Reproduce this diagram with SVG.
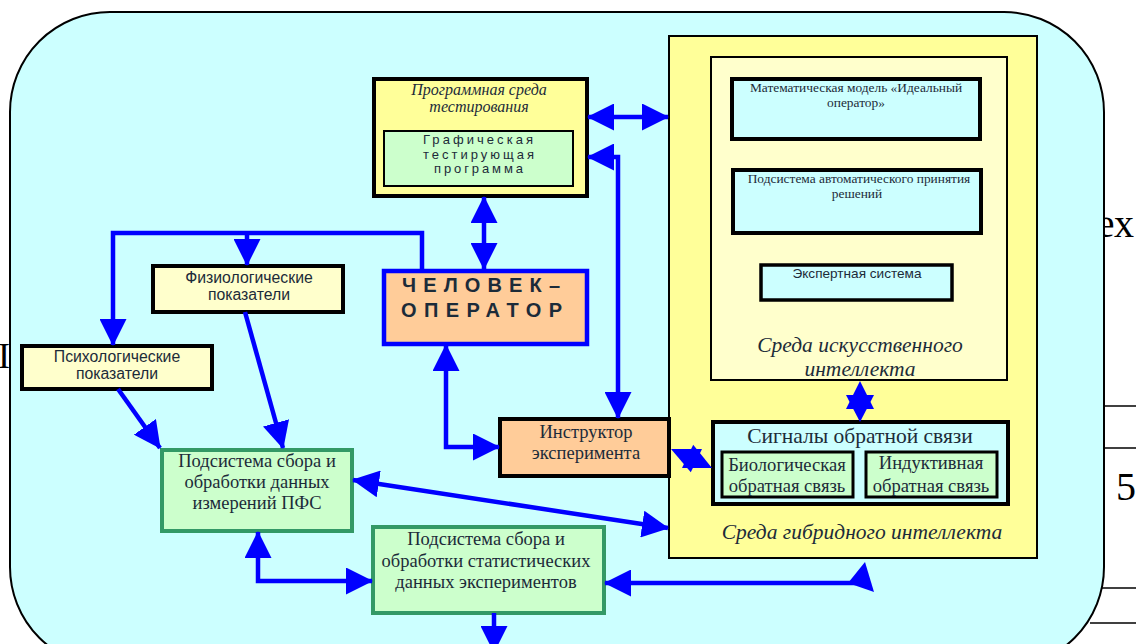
<svg xmlns="http://www.w3.org/2000/svg" width="1136" height="644" viewBox="0 0 1136 644">
<style>
.bg{font-family:"Liberation Serif","Times New Roman",serif;fill:#000}
.sr{font-family:"Liberation Serif","Times New Roman",serif;fill:#1c2b39;text-anchor:middle}
.it{font-family:"Liberation Serif","Times New Roman",serif;font-style:italic;fill:#1c2b39;text-anchor:middle}
.ss{font-family:"Liberation Sans",Arial,sans-serif;fill:#1c2b39;text-anchor:middle}
.sp{font-family:"Liberation Sans",Arial,sans-serif;fill:#1c2b39;text-anchor:start;font-size:13px}
.bd{font-family:"Liberation Sans",Arial,sans-serif;font-weight:bold;fill:#1c2b39}
.con{fill:none;stroke:#0000FF;stroke-width:4.5}
.head{fill:#0000FF}
</style>
<defs>
<marker id="ah" viewBox="0 0 27 27" refX="26" refY="13.5" markerWidth="27" markerHeight="27" markerUnits="userSpaceOnUse" orient="auto-start-reverse">
<path d="M0,0 L27,13.5 L0,27 z" fill="#0000FF"/>
</marker>
</defs>

<!-- background page fragments -->
<g id="page">
<text class="bg" x="1134" y="237" font-size="40" text-anchor="end">ех</text>
<text class="bg" x="1116" y="500" font-size="40">5</text>
<text class="bg" x="-2" y="368" font-size="36">I</text>
<g stroke="#000" stroke-width="1.5">
<line x1="1100" y1="406" x2="1136" y2="406"/>
<line x1="1100" y1="448" x2="1136" y2="448"/>
<line x1="1096" y1="588" x2="1136" y2="588"/>
<line x1="1090" y1="623" x2="1136" y2="623"/>
</g>
</g>

<g id="outer">
<rect x="10" y="12" width="1094" height="655" rx="100" ry="100" fill="#CCFFFF" stroke="#000" stroke-width="2"/>
</g>

<g id="hybrid">
<rect x="669" y="36" width="368" height="522" fill="#FFFF99" stroke="#000" stroke-width="2"/>
<text class="it" x="862" y="539" font-size="21.5">Среда гибридного интеллекта</text>
</g>

<g id="ai">
<rect x="711" y="57" width="296" height="323" fill="#FFFFCC" stroke="#000" stroke-width="2"/>
<text class="it" x="860" y="352" font-size="21.5">Среда искусственного</text>
<text class="it" x="860" y="376" font-size="21.5">интеллекта</text>
</g>

<g id="mathmodel">
<rect x="732" y="79" width="248" height="60" fill="#CCFFFF" stroke="#000" stroke-width="4"/>
<text class="sr" x="856" y="92" font-size="13.4">Математическая модель «Идеальный</text>
<text class="sr" x="856" y="107" font-size="13.4">оператор»</text>
</g>

<g id="decision">
<rect x="733" y="170" width="248" height="63" fill="#CCFFFF" stroke="#000" stroke-width="4"/>
<text class="sr" x="859" y="183" font-size="13.4">Подсистема автоматического принятия</text>
<text class="sr" x="857" y="198" font-size="13.4">решений</text>
</g>

<g id="expert">
<rect x="761" y="265" width="191" height="35" fill="#CCFFFF" stroke="#000" stroke-width="3.5"/>
<text class="ss" x="857" y="278" font-size="13.6">Экспертная система</text>
</g>

<g id="signals">
<rect x="713" y="422" width="295" height="82" fill="#CCFFFF" stroke="#000" stroke-width="4"/>
<text class="sr" x="860" y="443" font-size="21.5">Сигналы обратной связи</text>
</g>

<g id="bio">
<rect x="722" y="452" width="131" height="45" fill="#CCFFCC" stroke="#000" stroke-width="3"/>
<text class="sr" x="787" y="471" font-size="18.6">Биологическая</text>
<text class="sr" x="787" y="492" font-size="18.6">обратная связь</text>
</g>

<g id="inductive">
<rect x="866" y="452" width="131" height="45" fill="#CCFFCC" stroke="#000" stroke-width="3"/>
<text class="sr" x="931" y="469" font-size="18.6">Индуктивная</text>
<text class="sr" x="931" y="492" font-size="18.6">обратная связь</text>
</g>

<g id="progenv">
<rect x="374" y="79" width="213" height="117" fill="#FFFF99" stroke="#000" stroke-width="4"/>
<text class="it" x="479" y="95" font-size="16">Программная среда</text>
<text class="it" x="479" y="112" font-size="16">тестирования</text>
</g>

<g id="graphprog">
<rect x="384" y="131" width="189" height="55" fill="#CCFFCC" stroke="#000" stroke-width="2"/>
<text class="sp" x="423" y="144" textLength="110" lengthAdjust="spacing">Графическая</text>
<text class="sp" x="423" y="159" textLength="111" lengthAdjust="spacing">тестирующая</text>
<text class="sp" x="434" y="173" textLength="89" lengthAdjust="spacing">программа</text>
</g>

<g id="operator">
<rect x="384" y="271" width="203" height="73" fill="#FFCC99" stroke="#0000FF" stroke-width="4.5"/>
<text class="bd" x="402" y="292" font-size="20" textLength="158" lengthAdjust="spacing">ЧЕЛОВЕК–</text>
<text class="bd" x="401" y="317" font-size="20" textLength="161" lengthAdjust="spacing">ОПЕРАТОР</text>
</g>

<g id="physio">
<rect x="153" y="266" width="190" height="46" fill="#FFFFCC" stroke="#000" stroke-width="4"/>
<text class="ss" x="249" y="283" font-size="15.8">Физиологические</text>
<text class="ss" x="249" y="300" font-size="15.8">показатели</text>
</g>

<g id="psycho">
<rect x="22" y="346" width="190" height="43" fill="#FFFFCC" stroke="#000" stroke-width="4"/>
<text class="ss" x="117" y="362" font-size="15.8">Психологические</text>
<text class="ss" x="117" y="379" font-size="15.8">показатели</text>
</g>

<g id="pfs">
<rect x="162" y="450" width="190" height="81" fill="#CCFFCC" stroke="#339966" stroke-width="4"/>
<text class="sr" x="257" y="467" font-size="18.5">Подсистема сбора и</text>
<text class="sr" x="257" y="488" font-size="18.5">обработки данных</text>
<text class="sr" x="257" y="509" font-size="18.5">измерений ПФС</text>
</g>

<g id="instructor">
<rect x="500" y="419" width="169" height="57" fill="#FFCC99" stroke="#000" stroke-width="4"/>
<text class="sr" x="586" y="438" font-size="18.5">Инструктор</text>
<text class="sr" x="586" y="459" font-size="18.5">эксперимента</text>
</g>

<g id="stats">
<rect x="373" y="527" width="231" height="86" fill="#CCFFCC" stroke="#339966" stroke-width="4"/>
<text class="sr" x="486" y="545" font-size="18.5">Подсистема сбора и</text>
<text class="sr" x="486" y="567" font-size="18.5">обработки статистических</text>
<text class="sr" x="486" y="588" font-size="18.5">данных экспериментов</text>
</g>

<g id="connectors">
<line class="con" x1="588" y1="117" x2="668" y2="117" marker-start="url(#ah)" marker-end="url(#ah)"/>
<polyline class="con" points="618,418 618,157 588,157" marker-start="url(#ah)" marker-end="url(#ah)"/>
<line class="con" x1="484" y1="197" x2="484" y2="269" marker-start="url(#ah)" marker-end="url(#ah)"/>
<polyline class="con" points="422,271 422,233 113,233 113,345" marker-end="url(#ah)"/>
<line class="con" x1="247" y1="233" x2="247" y2="265" marker-end="url(#ah)"/>
<line class="con" x1="118" y1="389" x2="160" y2="448" marker-end="url(#ah)"/>
<line class="con" x1="245" y1="312" x2="283" y2="448" marker-end="url(#ah)"/>
<polyline class="con" points="446,345 446,447 499,447" marker-start="url(#ah)" marker-end="url(#ah)"/>
<line class="con" x1="353" y1="480" x2="668" y2="528" marker-start="url(#ah)" marker-end="url(#ah)"/>
<polyline class="con" points="258,532 258,581 372,581" marker-start="url(#ah)" marker-end="url(#ah)"/>
<line class="con" x1="605" y1="583" x2="856" y2="583" marker-start="url(#ah)"/>
<polygon class="head" points="848,583 865,562 874,592"/>
<line class="con" x1="494" y1="613" x2="494" y2="652" marker-end="url(#ah)"/>
<polygon class="head" points="860,381 874,409 846,409"/>
<polygon class="head" points="860,422 846,395 874,395"/>
<polygon class="head" points="671,449 690.8,472.3 702,448.9"/>
<polygon class="head" points="712,468 682,468.1 693.2,444.7"/>
</g>
</svg>
